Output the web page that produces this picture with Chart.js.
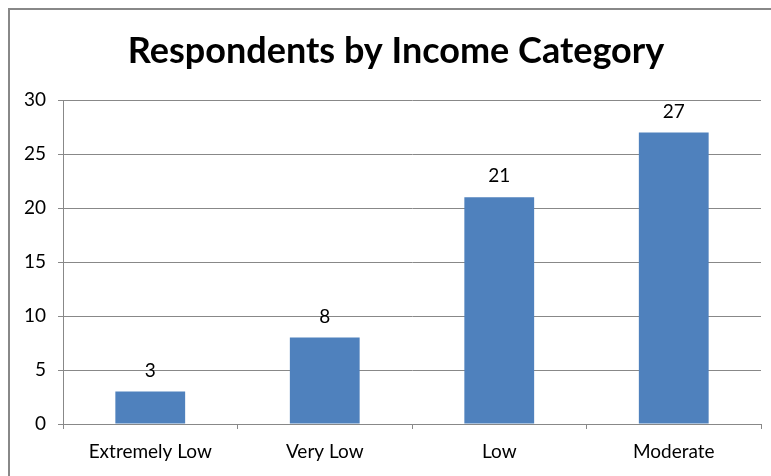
<!DOCTYPE html>
<html>
<head>
<meta charset="utf-8">
<script src="https://cdn.jsdelivr.net/npm/chart.js@4/dist/chart.umd.min.js"></script>
<style>
html,body{margin:0;padding:0;background:#fff;}
#wrap{width:771px;height:476px;position:relative;}
</style>
</head>
<body>
<div id="wrap"><canvas id="c" width="771" height="476"></canvas></div>
<script>
const chartTitle = 'Respondents by Income Category';
const categories = ['Extremely Low', 'Very Low', 'Low', 'Moderate'];
const respondents = [3, 8, 21, 27];
const yTicks = [0, 5, 10, 15, 20, 25, 30];

const FONT = 'Lato, "Open Sans", sans-serif';

const framePlugin = {
  id: 'frame',
  beforeDraw(chart) {
    const ctx = chart.ctx;
    ctx.save();
    ctx.fillStyle = '#fff';
    ctx.fillRect(0, 0, chart.width, chart.height);
    ctx.strokeStyle = '#888888';
    ctx.lineWidth = 2;
    ctx.strokeRect(9, 9, 800, 500);
    ctx.restore();
  },
  afterDraw(chart) {
    const ctx = chart.ctx;
    ctx.save();
    ctx.fillStyle = '#000';
    ctx.font = 'bold 36px ' + FONT;
    ctx.textAlign = 'center';
    ctx.textBaseline = 'middle';
    ctx.fillText(chartTitle, 396, 51);
    ctx.font = '19px ' + FONT;
    const meta = chart.getDatasetMeta(0);
    meta.data.forEach((bar, i) => {
      ctx.fillText(String(chart.data.datasets[0].data[i]), bar.x, bar.y - 21);
    });
    ctx.restore();
  }
};

new Chart(document.getElementById('c'), {
  type: 'bar',
  data: {
    labels: categories,
    datasets: [{
      data: respondents,
      backgroundColor: '#4F81BD',
      borderWidth: 0,
      barPercentage: 0.4,
      categoryPercentage: 1.0
    }]
  },
  options: {
    responsive: false,
    animation: false,
    layout: { padding: { left: 13, right: 10, top: 100, bottom: 0 } },
    plugins: { legend: { display: false }, title: { display: false }, tooltip: { enabled: false } },
    scales: {
      x: {
        grid: { display: true, drawOnChartArea: false, drawTicks: true, tickLength: 5, color: '#888888', offset: true },
        border: { display: true, color: '#888888', width: 1 },
        ticks: { color: '#000', font: { family: FONT, size: 19 }, padding: 11, maxRotation: 0 },
        afterFit(s) { s.height = 52; }
      },
      y: {
        min: 0, max: 30,
        afterBuildTicks(s) { s.ticks = yTicks.map(v => ({ value: v })); },
        grid: { color: '#888888', drawTicks: true, tickLength: 5 },
        border: { display: true, color: '#888888', width: 1 },
        ticks: { color: '#000', font: { family: FONT, size: 19 }, padding: 12 },
        afterFit(s) { s.width = 50; }
      }
    }
  },
  plugins: [framePlugin]
});
</script>
</body>
</html>
